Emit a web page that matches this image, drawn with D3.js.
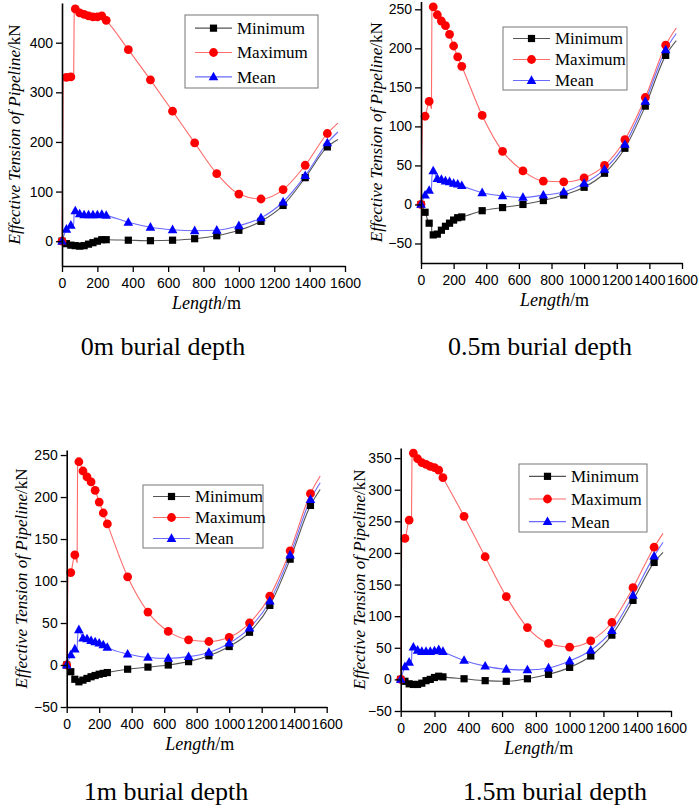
<!DOCTYPE html>
<html>
<head>
<meta charset="utf-8">
<script src="https://cdn.jsdelivr.net/npm/d3@7"></script>
<style>
  body { margin: 0; background: #fff; }
  svg { display: block; }
  .serif { font-family: "Liberation Serif", "Times New Roman", serif; }
</style>
</head>
<body>
<svg id="canvas"></svg>
<script>
// pipeline effective tension vs length, four burial depths

let width = 699
let height = 810

// node positions along the pipeline (m) where markers sit
let lengthM = [0, 25, 50, 75, 100, 125, 150, 175, 200, 225, 250, 375, 500, 625, 750, 875, 1000, 1125, 1250, 1375, 1500]

// 0m burial depth
let min0  = [0, -5, -8, -9, -10, -9, -6, -3, 0, 3, 3, 2, 1, 2, 5, 11, 22, 40, 72, 128, 190]
let max0  = [0, 330, 331, 468, 460, 457, 454, 452, 452, 454, 445, 386, 325, 262, 198, 136, 95, 85, 104, 153, 217]
let mean0 = [0, 24, 32, 61, 55, 53, 53, 53, 53, 54, 52, 38, 28, 23, 21, 22, 31, 47, 79, 132, 198]

// 0.5m burial depth
let min05  = [0, -10, -24, -39, -38, -33, -28, -24, -20, -17, -16, -8, -4, 0, 5, 12, 22, 40, 72, 126, 191]
let max05  = [0, 113, 132, 253, 243, 235, 229, 218, 203, 189, 177, 114, 68, 43, 30, 29, 34, 50, 83, 137, 204]
let mean05 = [0, 12, 18, 43, 33, 32, 30, 29, 27, 26, 24, 15, 11, 9, 12, 16, 27, 45, 77, 132, 198]

// 1m burial depth
let min1  = [0, -8, -17, -20, -18, -16, -14, -12.5, -11, -10, -9, -5, -2.5, 0, 4, 11, 22, 39, 71, 126, 190]
let max1  = [0, 110, 131, 242, 231, 224, 218, 208, 194, 181, 168, 105, 63, 40, 30, 28, 33, 50, 82, 136, 204]
let mean1 = [0, 12, 19, 42, 32, 31, 29, 27.5, 26, 24, 21, 13, 9, 8, 10, 15, 26, 44, 76, 131, 197]

// 1.5m burial depth
let min15  = [0, -3, -7, -8, -8, -6, -2, 0, 3, 5, 4, 1, -2, -3, 1, 8, 19, 37, 70, 125, 185]
let max15  = [0, 223, 252, 358, 349, 343, 340, 337, 335, 331, 319, 258, 194, 131, 82, 57, 51, 61, 90, 145, 209]
let mean15 = [0, 20, 27, 51, 46, 44, 44, 44, 45, 47, 44, 30, 21, 16, 15, 18, 29, 46, 77, 133, 195]

// extra line points (no marker): the steep jumps near the touchdown end
let jumpMax0   = [[7, 329], [66, 334], [69, 466]]
let jumpMean0  = [[66, 34], [69, 59]]
let jumpMax05  = [[12, 112], [64, 123], [67, 252]]
let jumpMin05  = [[64, -25], [67, -38]]
let jumpMean05 = [[64, 20], [67, 35]]
let jumpMax1   = [[10, 108], [64, 122], [67, 240]]
let jumpMin1   = [[64, -17], [67, -19]]
let jumpMean1  = [[64, 20], [67, 33]]
let jumpMax15  = [[8, 221], [64, 255], [67, 356]]
let jumpMean15 = [[64, 29], [67, 49]]

// where each curve stops past the last marker
let tailLength = [1560, 1565, 1560, 1553]
let tailMin  = [205, 210, 209, 201]
let tailMax  = [238, 226, 225, 231]
let tailMean = [220, 219, 217, 217]

// tick labels
let xTicks = [0, 200, 400, 600, 800, 1000, 1200, 1400, 1600]
let yTicks0  = [0, 100, 200, 300, 400]
let yTicks05 = [-50, 0, 50, 100, 150, 200, 250]
let yTicks1  = [-50, 0, 50, 100, 150, 200, 250]
let yTicks15 = [-50, 0, 50, 100, 150, 200, 250, 300, 350]

let titles = ['0m burial depth', '0.5m burial depth', '1m burial depth', '1.5m burial depth']
let seriesNames = ['Minimum', 'Maximum', 'Mean']

let markColor = ['#000000', '#ff0000', '#0000ff']
let lineColor = ['#555555', '#ff6a6a', '#6a6aff']

let sans = '"Liberation Sans", Arial, sans-serif'

let panels = [
    { series: [min0, max0, mean0], jumps: [[], jumpMax0, jumpMean0], yTicks: yTicks0, minorStep: 50,
      yDomain: [-50, 480], left: 62, right: 345, top: 3, bottom: 266,
      legend: { x: 185, y: 15, w: 133, h: 73 }, yTitleX: 14, titleX: 163, titleY: 355 },
    { series: [min05, max05, mean05], jumps: [jumpMin05, jumpMax05, jumpMean05], yTicks: yTicks05, minorStep: 25,
      yDomain: [-75, 260], left: 421, right: 682, top: 1.5, bottom: 263,
      legend: { x: 503, y: 27, w: 124, h: 63 }, yTitleX: 376, titleX: 540, titleY: 355 },
    { series: [min1, max1, mean1], jumps: [jumpMin1, jumpMax1, jumpMean1], yTicks: yTicks1, minorStep: 25,
      yDomain: [-50, 256], left: 66.7, right: 326.7, top: 450, bottom: 707,
      legend: { x: 143, y: 485, w: 120, h: 63 }, yTitleX: 21, titleX: 166, titleY: 800 },
    { series: [min15, max15, mean15], jumps: [[], jumpMax15, jumpMean15], yTicks: yTicks15, minorStep: 25,
      yDomain: [-50, 366], left: 400.7, right: 671, top: 448, bottom: 711,
      legend: { x: 519, y: 464, w: 128, h: 68 }, yTitleX: 359, titleX: 555, titleY: 800 }
]

let svg = d3.select('#canvas')
            .attr('width', width)
            .attr('height', height)

let drawMarker = (g, k, cx, cy) => {
    if (k === 0) {
        g.append('rect')
         .attr('x', cx - 3.6).attr('y', cy - 3.6)
         .attr('width', 7.2).attr('height', 7.2)
         .attr('fill', markColor[0])
    } else if (k === 1) {
        g.append('circle')
         .attr('cx', cx).attr('cy', cy).attr('r', 4.4)
         .attr('fill', markColor[1])
    } else {
        g.append('path')
         .attr('d', `M${cx},${cy - 5.2} L${cx + 4.8},${cy + 3.4} L${cx - 4.8},${cy + 3.4} Z`)
         .attr('fill', markColor[2])
    }
}

let drawPanel = (p, idx) => {
    let g = svg.append('g')

    let x = d3.scaleLinear().domain([0, 1600]).range([p.left, p.right])
    let y = d3.scaleLinear().domain(p.yDomain).range([p.bottom, p.top])

    // lines
    let line = d3.line()
                 .x(d => x(d[0]))
                 .y(d => y(d[1]))
                 .curve(d3.curveMonotoneX)

    p.series.forEach((vals, k) => {
        let tail = [tailMin, tailMax, tailMean][k][idx]
        let pts = lengthM.map((l, i) => [l, vals[i]])
                         .concat(p.jumps[k])
                         .concat([[tailLength[idx], tail]])
                         .sort((a, b) => a[0] - b[0])
        g.append('path')
         .attr('d', line(pts))
         .attr('fill', 'none')
         .attr('stroke', lineColor[k])
         .attr('stroke-width', 1.1)
    })

    // markers
    p.series.forEach((vals, k) => {
        lengthM.forEach((l, i) => drawMarker(g, k, x(l), y(vals[i])))
    })

    // axes
    let minorX = d3.range(0, 1601, 100)
    let minorY = d3.range(p.yDomain[0] - (p.yDomain[0] % p.minorStep), p.yDomain[1], p.minorStep)

    let xAxis = g.append('g')
                 .attr('transform', `translate(0,${p.bottom})`)
                 .call(d3.axisBottom(x).tickValues(minorX).tickSize(3.5).tickFormat('').tickSizeOuter(0))
    xAxis.call(d3.axisBottom(x).tickValues(xTicks).tickSize(6).tickFormat(d3.format('d')).tickSizeOuter(0))
    xAxis.selectAll('text')
         .attr('dy', 0).attr('y', 22)
         .style('font-family', sans).style('font-size', '14px').attr('fill', '#000')

    let yAxis = g.append('g')
                 .attr('transform', `translate(${p.left},0)`)
                 .call(d3.axisLeft(y).tickValues(minorY).tickSize(3.5).tickFormat('').tickSizeOuter(0))
    yAxis.call(d3.axisLeft(y).tickValues(p.yTicks).tickSize(6).tickFormat(d3.format('d')).tickSizeOuter(0))
    yAxis.selectAll('text')
         .attr('x', -9)
         .style('font-family', sans).style('font-size', '14px').attr('fill', '#000')

    g.selectAll('.domain').attr('stroke', '#000').attr('stroke-width', 1.6)
    g.selectAll('.tick line').attr('stroke', '#000').attr('stroke-width', 1.3)

    // axis titles
    let xt = g.append('text')
              .attr('class', 'serif')
              .attr('x', (p.left + p.right) / 2 + 3)
              .attr('y', p.bottom + 43)
              .attr('text-anchor', 'middle')
              .style('font-size', '18px')
    xt.append('tspan').style('font-style', 'italic').text('Length')
    xt.append('tspan').text('/m')

    let cy = (p.top + p.bottom) / 2
    let yt = g.append('text')
              .attr('class', 'serif')
              .attr('transform', `translate(${p.yTitleX},${cy}) rotate(-90)`)
              .attr('text-anchor', 'middle')
              .attr('dy', '0.35em')
              .style('font-size', '17px')
    yt.append('tspan').style('font-style', 'italic').text('Effective Tension of Pipeline')
    yt.append('tspan').text('/kN')

    // legend
    let lg = g.append('g')
    lg.append('rect')
      .attr('x', p.legend.x).attr('y', p.legend.y)
      .attr('width', p.legend.w).attr('height', p.legend.h)
      .attr('fill', '#fff').attr('stroke', '#777').attr('stroke-width', 1)
    let rowH = p.legend.h / 3
    seriesNames.forEach((name, k) => {
        let ry = p.legend.y + rowH * (k + 0.5) + 1
        let lx0 = p.legend.x + 10
        let lx1 = lx0 + 37
        lg.append('line')
          .attr('x1', lx0).attr('x2', lx1).attr('y1', ry).attr('y2', ry)
          .attr('stroke', lineColor[k]).attr('stroke-width', 1.1)
        drawMarker(lg, k, (lx0 + lx1) / 2, ry)
        lg.append('text')
          .attr('class', 'serif')
          .attr('x', lx1 + 5).attr('y', ry).attr('dy', '0.35em')
          .style('font-size', '17px')
          .text(name)
    })

    // panel caption
    svg.append('text')
       .attr('class', 'serif')
       .attr('x', p.titleX).attr('y', p.titleY)
       .attr('text-anchor', 'middle')
       .style('font-size', '26px')
       .text(titles[idx])
}

panels.forEach((p, i) => drawPanel(p, i))
</script>
</body>
</html>
